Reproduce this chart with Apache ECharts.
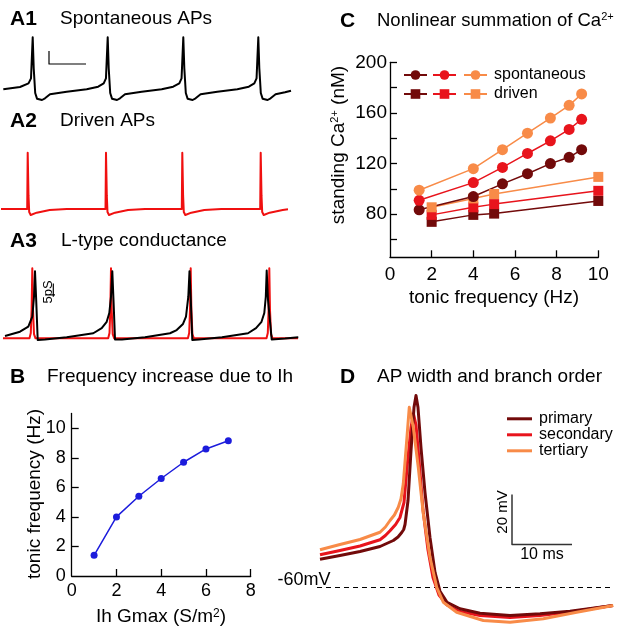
<!DOCTYPE html>
<html><head><meta charset="utf-8">
<script src="https://cdn.jsdelivr.net/npm/echarts@6/dist/echarts.min.js"></script>
<style>html,body{margin:0;padding:0;background:#fff}#c{width:620px;height:629px}</style>
</head><body><div id="c"></div>
<script>
const FONT = "'Liberation Sans', Arial, Helvetica, sans-serif";

// ---------- A1: spontaneous APs (t in ms, V in mV)
const a1Spontaneous = [[6.6,-62],[40,-58.5],[57,-53],[62,-45.5],[65.4,16],[67.4,-30],[70.4,-67.5],[74,-76],[78,-79],[84,-78],[90,-75.5],[100,-69.5],[133.4,-65.5],[173.4,-62],[196.4,-58],[207.4,-53],[211.9,-45.5],[215.4,16],[217.4,-30],[220.4,-67.5],[224,-76],[228,-79],[234,-78],[240,-75.5],[250,-69.5],[283.4,-65.5],[323.4,-62],[346.4,-58],[358.6,-53],[363.1,-45.5],[366.6,16],[368.6,-30],[371.6,-67.5],[375.2,-76],[379.2,-79],[385.2,-78],[391.2,-75.5],[401.2,-69.5],[434.6,-65.5],[474.6,-62],[497.6,-58],[508.6,-53],[513.1,-45.5],[516.6,16],[518.6,-30],[521.6,-67.5],[525.2,-76],[529.2,-79],[535.2,-78],[541.2,-75.5],[551.2,-69.5],[570,-66.5],[582,-64]];
const a1ScaleBar = [[98,-4.5],[98,-24],[172,-24]];

// ---------- A2: driven APs
const a2Driven = [[2,-60],[54.4,-60],[55.4,24.5],[57,-40],[58.4,-64.5],[61.4,-69],[73.4,-65.5],[99.4,-61.5],[133.4,-60],[211,-60],[212,24.5],[213.6,-40],[215,-64.5],[218,-69],[230,-65.5],[256,-61.5],[290,-60],[363.6,-60],[364.6,24.5],[366.2,-40],[367.6,-64.5],[370.6,-69],[382.6,-65.5],[408.6,-61.5],[442.6,-60],[520.4,-60],[521.4,24.5],[523,-40],[524.4,-64.5],[527.4,-69],[539.4,-65.5],[565.4,-61.5],[576,-60.5]];

// ---------- A3: L-type conductance (pS)
const a3Driven = [[6,1.0],[59,1.0],[61.6,3.0],[63.2,11.6],[64.6,27.3],[66,11.6],[68,2.6],[71,1.0],[216.4,1.0],[219,3.0],[220.6,11.6],[222,27.3],[223.4,11.6],[225.4,2.6],[228.4,1.0],[375.8,1.0],[378.4,3.0],[380,11.6],[381.4,27.3],[382.8,11.6],[384.8,2.6],[387.8,1.0],[533,1.0],[535.6,3.0],[537.2,11.6],[538.6,27.3],[540,11.6],[542,2.6],[545,1.0],[596,1.0]];
const a3Spontaneous = [[10,1.9],[40,3.5],[56.6,5.4],[64.6,9.1],[68,16.6],[70,26.2],[72.4,15.4],[75.4,0.4],[90,0.6],[133.4,1.4],[186.6,2.9],[203.4,4.8],[213.4,7.2],[218.6,10.5],[222,16.6],[224.6,26.2],[227,15.4],[230,0.6],[244,0.6],[290,1.4],[340,2.9],[353.4,4.1],[366,6.4],[372,9.1],[376.6,16.6],[379,26.2],[381.6,15.4],[384.6,0.4],[398,0.6],[444,1.4],[496,2.9],[512,4.8],[523,7.2],[528.6,10.5],[531.6,16.6],[533.4,26.4],[536,15.4],[543.4,0.6],[570,0.9],[596.6,1.4]];
const a3ScaleBar = [[106.6,16.6],[106.6,21.6]];

// ---------- B: frequency vs Ih Gmax
const ihGmax = [1,2,3,4,5,6,7];
const ihFreq = [1.4,4.0,5.4,6.6,7.7,8.6,9.15];
const bXTicks = [2,4,6,8];
const bXLabels = [0,2,4,6,8];
const bYTicks = [2,4,6,8,10];
const bYLabels = [0,2,4,6,8,10];

// ---------- C: standing Ca2+
const spontFreq = [1.4,4.0,5.4,6.6,7.7,8.6,9.2];
const spontPrimary = [83.5,94,104,112,120,125,131];
const spontSecondary = [91,105,117,128,138,147,155];
const spontTertiary = [99,116,131,144,156,166,175];
const drivenFreq = [2,4,5,10];
const drivenPrimary = [74,79.5,80.5,90.5];
const drivenSecondary = [79.5,85.5,88,98.5];
const drivenTertiary = [85.5,92.5,96,109.5];
const cXTicks = [2,4,6,8,10];
const cXLabels = [0,2,4,6,8,10];
const cYTicks = [60,80,100,120,140,160,180,200];
const cYLabels = [80,120,160,200];

// ---------- D: AP shape by branch order (t ms, V mV)
const dPrimary = [[0.5,-48.7],[3.83,-47.2],[7.17,-45.6],[10.5,-43.6],[11.7,-42.3],[12.72,-41.2],[13.5,-39.8],[14.12,-38],[14.45,-36.8],[14.67,-34.8],[15.17,-25.2],[15.67,-5.2],[16.17,12.1],[16.5,16.8],[16.83,12.1],[17.33,-4],[18,-22],[18.83,-40],[19.67,-54],[20.5,-61.5],[21.67,-65.9],[23.83,-68.5],[27.17,-70.3],[32.17,-71.2],[37.17,-70.5],[42.17,-69.5],[49.33,-67.2]];
const dSecondary = [[0.5,-46.9],[3.83,-45.2],[7.17,-43.4],[10.5,-40.9],[11.4,-39.2],[12.17,-37.3],[13.1,-34.8],[13.83,-32],[14.5,-26],[15.08,-10],[15.67,4],[16.08,9.5],[16.5,5],[17,-9],[17.67,-29],[18.5,-45],[19.33,-56],[20.33,-63],[21.67,-67],[23.83,-69.6],[27.17,-71.2],[32.17,-72],[37.17,-71.2],[42.17,-69.8],[49.33,-67.2]];
const dTertiary = [[0.5,-44.9],[3.83,-42.8],[7.17,-40.8],[10.5,-37.9],[11.4,-35.8],[12.17,-33.2],[12.9,-31],[13.55,-27.9],[14.0,-24.5],[14.38,-18.5],[14.95,-1.2],[15.38,12.1],[16.05,4.1],[16.88,-11.9],[17.72,-30.5],[18.83,-47.9],[19.95,-59.9],[21.05,-65.9],[23.28,-69.9],[27.72,-73.2],[32.17,-73.9],[37.72,-72.5],[43.28,-69.9],[49.38,-67.2]];
const dRest = [[0,-60],[49.5,-60]];
const dScaleBar = [[32.5,-22.8],[32.5,-42.8],[42.5,-42.8]];

const DARK = '#720a0a', RED = '#e8141c', ORANGE = '#f88b48', BLUE = '#1c1cdc';
const zip = (xs, ys) => xs.map((x, i) => [x, ys[i]]);

function hiddenAxis(g, min, max) { return {type:'value', gridIndex:g, min, max, show:false}; }
function visAxis(g, min, max, ticks, labels, fs, margin) {
  return {type:'value', gridIndex:g, min, max,
    axisLine:{show:true, onZero:false, lineStyle:{color:'#000', width:1.3}},
    axisTick:{show:true, inside:true, length:7, customValues:ticks, lineStyle:{color:'#000', width:1.3}},
    axisLabel:{show:true, customValues:labels, fontSize:fs, fontFamily:FONT, color:'#000', margin},
    splitLine:{show:false}};
}
function trace(name, xi, data, color, width, extra) {
  return Object.assign({type:'line', name, xAxisIndex:xi, yAxisIndex:xi, data, symbol:'none', showSymbol:false,
    color, lineStyle:{color, width, join:'round'}, silent:true, animation:false}, extra || {});
}
function dots(name, data, color, symbol, size) {
  return {type:'line', name, xAxisIndex:4, yAxisIndex:4, data, symbol, symbolSize:size, showSymbol:true,
    color, itemStyle:{color}, lineStyle:{color, width:1.5}, silent:true, animation:false};
}
function txt(x, y, text, size, o) {
  o = o || {};
  const el = {type:'text', x, y, silent:true, style:{text, fontSize:size, fontFamily:FONT, fill:'#000',
    align:o.align || 'left', verticalAlign:'middle', fontWeight:o.bold ? 'bold' : 'normal'}};
  if (o.rich) el.style.rich = o.rich;
  if (o.rotation) el.rotation = o.rotation;
  return el;
}
const supRich = (fs, ss) => ({a:{fontSize:fs, fontFamily:FONT, fill:'#000', color:'#000'},
  s:{fontSize:ss, fontFamily:FONT, fill:'#000', color:'#000', verticalAlign:'top'}});

const gridBase = {containLabel:false, outerBoundsMode:'none', show:false};
const option = {
  animation:false,
  backgroundColor:'#fff',
  grid:[
    Object.assign({left:0, top:28, width:300, height:80}, gridBase),
    Object.assign({left:0, top:149, width:300, height:80}, gridBase),
    Object.assign({left:0, top:266.33, width:300, height:80}, gridBase),
    Object.assign({left:71.7, top:413.5, width:179, height:162.5}, gridBase),
    Object.assign({left:390, top:62.3, width:208.3, height:195}, gridBase),
    Object.assign({left:317, top:350, width:300, height:275}, gridBase)
  ],
  xAxis:[
    hiddenAxis(0,0,600), hiddenAxis(1,0,600), hiddenAxis(2,0,600),
    visAxis(3,0,8,bXTicks,bXLabels,18,6),
    visAxis(4,0,10,cXTicks,cXLabels,19,8),
    hiddenAxis(5,0,50)
  ],
  yAxis:[
    hiddenAxis(0,-90,30), hiddenAxis(1,-90,30), hiddenAxis(2,-2,28),
    visAxis(3,0,11,bYTicks,bYLabels,18,6),
    visAxis(4,46,200,cYTicks,cYLabels,19,3),
    hiddenAxis(5,-75,35)
  ],
  legend:[
    {left:403, top:67, padding:0, orient:'vertical', itemWidth:23, itemHeight:12, itemGap:3, selectedMode:false,
     data:['sp1','dr1'], formatter:() => ' ', textStyle:{fontSize:16, lineHeight:12, fontFamily:FONT}},
    {left:432, top:67, padding:0, orient:'vertical', itemWidth:23, itemHeight:12, itemGap:3, selectedMode:false,
     data:['sp2','dr2'], formatter:() => ' ', textStyle:{fontSize:16, lineHeight:12, fontFamily:FONT}},
    {left:463, top:67, padding:0, orient:'vertical', itemWidth:23, itemHeight:12, itemGap:3, selectedMode:false,
     data:['sp3','dr3'], formatter:n => n === 'sp3' ? 'spontaneous' : 'driven',
     textStyle:{fontSize:16, lineHeight:12, fontFamily:FONT, color:'#000', padding:[0,0,0,2]}},
    {left:507, top:410.8, padding:0, orient:'vertical', icon:'rect', itemWidth:25, itemHeight:3, itemGap:0, selectedMode:false,
     data:['primary','secondary','tertiary'],
     textStyle:{fontSize:16, lineHeight:15, fontFamily:FONT, color:'#000', padding:[0,0,0,2]}}
  ],
  series:[
    trace('a1', 0, a1Spontaneous, '#000', 2),
    trace('a1bar', 0, a1ScaleBar, '#000', 1.2),
    trace('a2', 1, a2Driven, '#f01010', 2),
    trace('a3d', 2, a3Driven, '#f01010', 2),
    trace('a3s', 2, a3Spontaneous, '#000', 2),
    trace('a3bar', 2, a3ScaleBar, '#000', 1.2),
    {type:'line', name:'ih', xAxisIndex:3, yAxisIndex:3, data:zip(ihGmax, ihFreq), symbol:'circle', symbolSize:7,
     color:BLUE, itemStyle:{color:BLUE}, lineStyle:{color:BLUE, width:1.5}, silent:true, animation:false},
    dots('dr1', zip(drivenFreq, drivenPrimary), DARK, 'rect', 10),
    dots('dr2', zip(drivenFreq, drivenSecondary), RED, 'rect', 10),
    dots('dr3', zip(drivenFreq, drivenTertiary), ORANGE, 'rect', 10),
    dots('sp1', zip(spontFreq, spontPrimary), DARK, 'circle', 11),
    dots('sp2', zip(spontFreq, spontSecondary), RED, 'circle', 11),
    dots('sp3', zip(spontFreq, spontTertiary), ORANGE, 'circle', 11),
    trace('rest', 5, dRest, '#000', 1, {lineStyle:{color:'#000', width:1, type:[5,4]}}),
    trace('dbar', 5, dScaleBar, '#333', 1.5),
    trace('secondary', 5, dSecondary, RED, 3),
    trace('primary', 5, dPrimary, DARK, 3),
    trace('tertiary', 5, dTertiary, ORANGE, 3)
  ],
  graphic:[
    txt(10, 19, 'A1', 21, {bold:true}), txt(60, 19, 'Spontaneous APs', 19),
    txt(10, 121, 'A2', 21, {bold:true}), txt(60, 121, 'Driven APs', 19),
    txt(10, 241, 'A3', 21, {bold:true}), txt(61, 241, 'L-type conductance', 19),
    txt(10, 377, 'B', 21, {bold:true}), txt(47, 377, 'Frequency increase due to Ih', 19),
    txt(340, 21, 'C', 21, {bold:true}),
    txt(377, 21, '{a|Nonlinear summation of Ca}{s|2+}', 19, {rich:supRich(18.5, 11)}),
    txt(340, 377, 'D', 21, {bold:true}), txt(377, 377, 'AP width and branch order', 19),
    txt(48.5, 292, '5pS', 13, {align:'center', rotation:Math.PI/2}),
    txt(35, 494, 'tonic frequency (Hz)', 19, {align:'center', rotation:Math.PI/2}),
    txt(161, 617, '{a|Ih Gmax (S/m}{s|2}{a|)}', 19, {align:'center', rich:supRich(19, 12)}),
    txt(494, 298, 'tonic frequency (Hz)', 19, {align:'center'}),
    txt(339, 145, '{a|standing Ca}{s|2+}{a| (nM)}', 19, {align:'center', rotation:Math.PI/2, rich:supRich(19, 11)}),
    txt(304, 580, '-60mV', 18, {align:'center'}),
    txt(503, 512, '20 mV', 15, {align:'center', rotation:Math.PI/2}),
    txt(542, 555, '10 ms', 16, {align:'center'})
  ]
};
const chart = echarts.init(document.getElementById('c'), null, {renderer:'canvas'});
chart.setOption(option);
</script></body></html>
